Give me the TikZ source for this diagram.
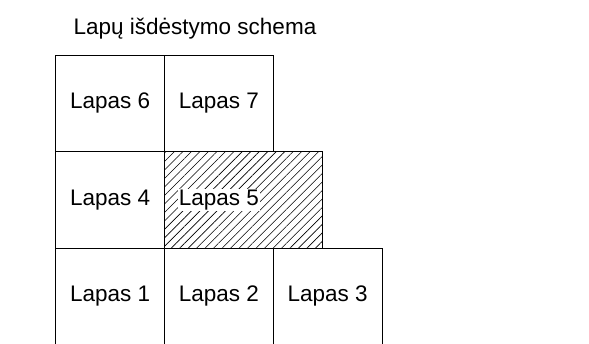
\documentclass[tikz,border=0pt]{standalone}
\usepackage{fontspec}
\setmainfont{Liberation Sans}
\usepackage{tikz}
\definecolor{white}{rgb}{1.0, 1.0, 1.0}
\definecolor{black}{rgb}{0.0, 0.0, 0.0}
\usetikzlibrary{patterns.meta}
\pgfdeclarelayer{hatchlayer}
\pgfdeclarelayer{nodelayer}
\pgfsetlayers{hatchlayer,main,nodelayer}
\tikzstyle{lapas}=[rectangle,draw=black,line width=1pt,minimum width=109pt,minimum height=96.5pt,inner sep=0pt,font=\fontsize{22.5}{26}\selectfont]
\tikzstyle{hatched}=[rectangle,draw=black,line width=1pt,minimum width=157.3pt,minimum height=96.5pt,inner sep=0pt,pattern={Lines[angle=45,distance=6pt,line width=0.6pt]}]
\tikzstyle{label}=[font=\fontsize{22.5}{26}\selectfont]

\begin{document}
\begin{tikzpicture}[x=1pt,y=-1pt]
        \useasboundingbox (0, 0) rectangle (589, 343);

        \begin{pgfonlayer}{hatchlayer}
            \node [style = hatched] (shade5) at (243.35, 199.75) {};
        \end{pgfonlayer}

        \begin{pgfonlayer}{nodelayer}
            \node [style = label, anchor = base] (title) at (195, 34) {Lapų išdėstymo schema};

            \node [style = lapas] (lapas6) at (110.2, 103.25) {Lapas 6};
            \node [style = lapas] (lapas7) at (218.9, 103.25) {Lapas 7};

            \node [style = lapas] (lapas4) at (110.2, 199.75) {Lapas 4};
            \node [style = label, fill=white, inner sep=0.8pt] (lapas5) at (218.9, 199.75) {Lapas 5};

            \node [style = lapas] (lapas1) at (110.2, 296.25) {Lapas 1};
            \node [style = lapas] (lapas2) at (218.9, 296.25) {Lapas 2};
            \node [style = lapas] (lapas3) at (327.6, 296.25) {Lapas 3};
        \end{pgfonlayer}
    \end{tikzpicture}
\end{document}
